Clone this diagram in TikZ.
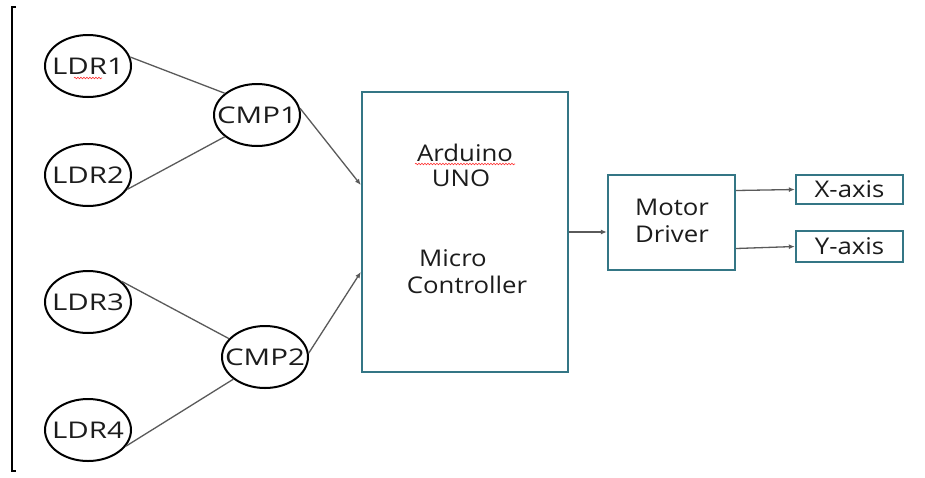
\documentclass[tikz,border=0pt]{standalone}
\usepackage{fontspec}
\setmainfont[FakeStretch=1.12]{Open Sans}
\newfontfamily\blobfont[FakeStretch=1.28]{Open Sans}
\usetikzlibrary{shapes.geometric,arrows.meta,decorations.pathmorphing}
\definecolor{teal}{RGB}{52,118,133}
\definecolor{wire}{RGB}{90,90,90}
\definecolor{txt}{RGB}{28,28,28}
\newcommand\zw[1]{\makebox[0pt][c]{#1}}
\begin{document}
\begin{tikzpicture}[x=1pt,y=-1pt,
  blob/.style={ellipse,draw=black,line width=2pt,minimum width=86pt,minimum height=62pt,inner sep=0pt,font=\blobfont\fontsize{23}{25}\selectfont,text=txt},
  tbox/.style={draw=teal,line width=2.4pt,inner sep=0pt},
  lbl/.style={font=\fontsize{23}{25}\selectfont,text=txt,inner sep=0pt},
  wirel/.style={draw=wire,line width=1.3pt},
  arr/.style={wirel,-{Latex[length=6pt,width=5pt]}},
  squig/.style={draw=red!80,line width=0.6pt,decorate,decoration={snake,amplitude=0.8pt,segment length=3pt}}
]
\useasboundingbox (0,0) rectangle (925,477);
\fill[white] (0,0) rectangle (925,477);
% frame bracket
\draw[line width=2pt,black] (16,7) -- (12,7) -- (12,471) -- (16,471);

\node[blob] (l1) at (88,66) {\zw{LDR1}};
\node[blob] (l2) at (88,175) {\zw{LDR2}};
\node[blob] (l3) at (88,302) {\zw{LDR3}};
\node[blob] (l4) at (88,430) {\zw{LDR4}};
\node[blob] (c1) at (257,115) {\zw{CMP1}};
\node[blob] (c2) at (265,357) {\zw{CMP2}};

\node[tbox,minimum width=206pt,minimum height=280pt] (ard) at (465,232) {};
\node[lbl] (t1) at (465,153) {Arduino};
\node[lbl] (t2) at (461,178) {UNO};
\node[lbl] (t3) at (453,258) {Micro};
\node[lbl] (t4) at (467,285) {Controller};

\node[tbox,minimum width=127pt,minimum height=95pt] (mot) at (671.5,222.5) {};
\node[lbl] (t5) at (672,207) {Motor};
\node[lbl] (t6) at (672,234) {Driver};

\node[tbox,minimum width=107pt,minimum height=29pt,lbl] (xa) at (849.5,189.5) {X-axis};
\node[tbox,minimum width=107pt,minimum height=31pt,lbl] (ya) at (849.5,246.5) {Y-axis};

% spell-check marks
\draw[squig] ([xshift=-14pt,yshift=-12pt]l1.center) -- ([xshift=14pt,yshift=-12pt]l1.center);
\draw[squig] ([xshift=-50pt,yshift=-11pt]t1.center) -- ([xshift=50pt,yshift=-11pt]t1.center);

% connectors
\draw[wirel] (l1.12) -- (c1.146);
\draw[wirel] (l2.-20) -- (c1.214);
\draw[wirel] (l3.32) -- (c2.153);
\draw[wirel] (l4.-23) -- (c2.215);
\draw[arr] (c1.9) -- ([yshift=47pt]ard.west);
\draw[arr] (c2.5) -- ([yshift=-40pt]ard.west);
\draw[arr] (ard.east) -- (ard.east -| mot.west);
\draw[arr] ([yshift=32pt]mot.east) -- (xa.west);
\draw[arr] ([yshift=-26pt]mot.east) -- (ya.west);
\end{tikzpicture}
\end{document}
